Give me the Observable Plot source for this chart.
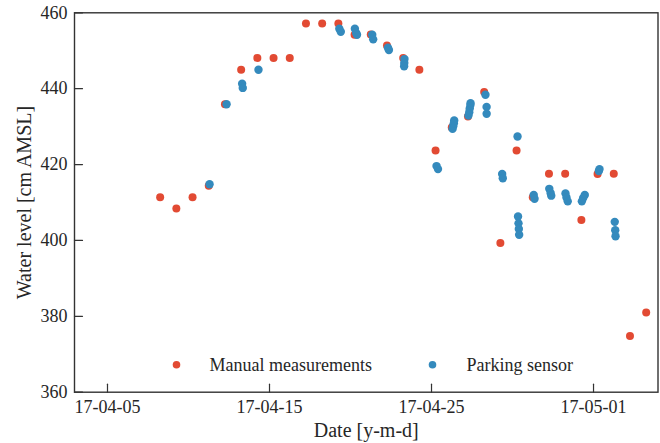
<!DOCTYPE html>
<html>
<head>
<meta charset="utf-8">
<script src="https://cdn.jsdelivr.net/npm/d3@7"></script>
<script src="https://cdn.jsdelivr.net/npm/@observablehq/plot@0.6"></script>
<style>
  body { margin: 0; background: #fff; }
  #chart { width: 660px; height: 443px; }
</style>
</head>
<body>
<div id="chart"></div>
<script>
// ---- data ----
const manualDates = [
  "2017-04-08T06:00Z","2017-04-09T06:00Z","2017-04-10T06:00Z","2017-04-11T06:00Z",
  "2017-04-12T06:00Z","2017-04-13T06:00Z","2017-04-14T06:00Z","2017-04-15T06:00Z",
  "2017-04-16T06:00Z","2017-04-17T06:00Z","2017-04-18T06:00Z","2017-04-19T06:00Z",
  "2017-04-20T06:00Z","2017-04-21T06:00Z","2017-04-22T06:00Z","2017-04-23T06:00Z",
  "2017-04-24T06:00Z","2017-04-25T06:00Z","2017-04-26T06:00Z","2017-04-27T06:00Z",
  "2017-04-28T06:00Z","2017-04-29T06:00Z","2017-04-30T06:00Z","2017-05-01T06:00Z",
  "2017-05-02T06:00Z","2017-05-03T06:00Z","2017-05-04T06:00Z","2017-05-05T06:00Z",
  "2017-05-06T06:00Z","2017-05-07T06:00Z","2017-05-08T06:00Z"
];
const manualValues = [
  411.4, 408.4, 411.4, 414.4, 435.9, 445.0, 448.1, 448.1,
  448.1, 457.2, 457.2, 457.2, 454.2, 454.3, 451.4, 448.1,
  445.0, 423.7, 429.8, 432.7, 439.1, 399.3, 423.7, 411.4,
  417.6, 417.6, 405.4, 417.5, 417.6, 374.8, 381.0
];
const sensorDates = [
  "2017-04-11T07:12Z","2017-04-12T08:24Z","2017-04-13T07:26Z","2017-04-13T08:24Z",
  "2017-04-14T07:40Z","2017-04-19T07:26Z","2017-04-19T09:36Z","2017-04-20T06:28Z",
  "2017-04-20T08:24Z","2017-04-20T09:36Z","2017-04-21T08:10Z","2017-04-21T09:36Z",
  "2017-04-22T07:26Z","2017-04-22T08:53Z","2017-04-23T07:55Z","2017-04-23T07:40Z",
  "2017-04-23T07:26Z","2017-04-25T07:26Z","2017-04-25T09:36Z","2017-04-26T07:12Z",
  "2017-04-26T08:10Z","2017-04-26T09:07Z","2017-04-26T09:36Z","2017-04-27T06:43Z",
  "2017-04-27T07:55Z","2017-04-27T08:38Z","2017-04-27T09:36Z","2017-04-27T09:50Z",
  "2017-04-28T07:55Z","2017-04-28T09:36Z","2017-04-28T09:40Z","2017-04-29T08:38Z",
  "2017-04-29T09:36Z","2017-04-30T07:26Z","2017-04-30T08:10Z","2017-04-30T08:53Z",
  "2017-04-30T09:22Z","2017-04-30T09:50Z","2017-05-01T07:26Z","2017-05-01T08:38Z",
  "2017-05-02T06:28Z","2017-05-02T08:24Z","2017-05-02T09:22Z","2017-05-03T06:28Z",
  "2017-05-03T07:55Z","2017-05-03T09:50Z","2017-05-04T11:02Z","2017-05-04T08:38Z",
  "2017-05-04T06:43Z","2017-05-05T07:55Z","2017-05-05T08:53Z","2017-05-06T07:26Z",
  "2017-05-06T08:10Z","2017-05-06T08:38Z"
];
const sensorValues = [
  414.8, 435.9, 441.3, 440.2,
  445.0, 455.8, 455.0, 455.8,
  454.7, 454.2, 454.2, 453.0,
  450.8, 450.2, 447.8, 446.8,
  445.9, 419.6, 418.8, 429.4,
  430.1, 430.9, 431.6, 432.9,
  433.8, 434.8, 435.7, 436.2,
  438.4, 435.2, 433.4, 417.5,
  416.4, 427.4, 406.3, 404.5,
  403.0, 401.5, 412.0, 411.0,
  413.6, 412.5, 411.8, 412.4,
  411.3, 410.3, 412.0, 411.2,
  410.3, 418.3, 418.8, 404.9,
  402.7, 401.1
];
const seriesNames = ["Manual measurements", "Parking sensor"];
const seriesColors = ["#E24A33", "#348ABD"];
const xTickDates = ["2017-04-05", "2017-04-15", "2017-04-25", "2017-05-05"];
const xTickLabels = ["17-04-05", "17-04-15", "17-04-25", "17-05-01"];
const yTicks = [360, 380, 400, 420, 440, 460];
const xDomain = ["2017-04-02T23:07Z", "2017-05-08T23:31Z"];
const yDomain = [360, 460];
const axisTitles = ["Date [y-m-d]", "Water level [cm AMSL]"];

// ---- build tables ----
const manual = manualDates.map((d, i) => ({date: new Date(d), value: manualValues[i]}));
const sensor = sensorDates.map((d, i) => ({date: new Date(d), value: sensorValues[i]}));
const xTicks = xTickDates.map(d => new Date(d));
const labelOf = d => xTickLabels[xTicks.findIndex(t => +t === +d)];

const ink = "#262626";
const lineShape = {draw(context, l) { context.moveTo(0, 0); context.lineTo(0, -l); }};

const plot = Plot.plot({
  width: 660,
  height: 443,
  marginLeft: 74,
  marginRight: 2.5,
  marginTop: 12.3,
  marginBottom: 51.3,
  style: {
    fontFamily: "'Liberation Serif', 'Times New Roman', serif",
    fontSize: "18px",
    color: ink,
    background: "#fff"
  },
  x: {type: "utc", domain: xDomain.map(d => new Date(d))},
  y: {domain: yDomain},
  marks: [
    Plot.dot(manual, {x: "date", y: "value", r: 4, fill: seriesColors[0]}),
    Plot.dot(sensor, {x: "date", y: "value", r: 4.2, fill: seriesColors[1]}),
    Plot.frame({stroke: "#333", strokeWidth: 1.4}),
    Plot.vector(xTicks, {x: d => d, frameAnchor: "bottom", length: 8, rotate: 0, anchor: "start",
      shape: lineShape, stroke: "#333", strokeWidth: 1.2}),
    Plot.vector(yTicks, {y: d => d, frameAnchor: "left", length: 8, rotate: 90, anchor: "start",
      shape: lineShape, stroke: "#333", strokeWidth: 1.2}),
    Plot.axisX(xTicks, {tickSize: 0, tickPadding: 8, tickFormat: labelOf, label: null, fontSize: 18, fill: ink}),
    Plot.axisY(yTicks, {tickSize: 0, tickPadding: 7, label: null, fontSize: 18, fill: ink}),
    Plot.text([axisTitles[0]], {text: d => d, frameAnchor: "bottom", dy: 44.8, lineAnchor: "bottom",
      textAnchor: "middle", fontSize: 20, fill: ink}),
    Plot.text([axisTitles[1]], {text: d => d, frameAnchor: "left", dx: -44, rotate: -90, lineAnchor: "bottom",
      textAnchor: "middle", fontSize: 20, fill: ink}),
    // legend (inside plot, bottom)
    Plot.dot([seriesNames[0]], {frameAnchor: "bottom-left", dx: 102, dy: -27.4, r: 3.8, fill: seriesColors[0]}),
    Plot.text([seriesNames[0]], {text: d => d, frameAnchor: "bottom-left", dx: 135, dy: -27.4,
      textAnchor: "start", lineAnchor: "middle", fontSize: 18, fill: ink}),
    Plot.dot([seriesNames[1]], {frameAnchor: "bottom-left", dx: 358, dy: -27.4, r: 3.8, fill: seriesColors[1]}),
    Plot.text([seriesNames[1]], {text: d => d, frameAnchor: "bottom-left", dx: 392, dy: -27.4,
      textAnchor: "start", lineAnchor: "middle", fontSize: 18, fill: ink})
  ]
});
document.getElementById("chart").appendChild(plot);
</script>
</body>
</html>
